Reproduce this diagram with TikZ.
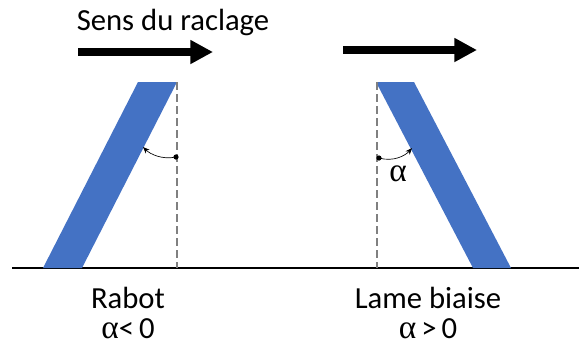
\documentclass[tikz,border=0pt]{standalone}
\usepackage{fontspec}
\setmainfont{Carlito}
\newfontfamily\grk{Liberation Serif}
\usetikzlibrary{arrows.meta}
\definecolor{blade}{HTML}{4472C4}
\definecolor{dashgray}{HTML}{808080}
\newcommand{\alf}{{\grk\fontsize{25}{25}\selectfont α}}
\begin{document}
\begin{tikzpicture}[x=0.75pt,y=-0.75pt,
  bladestyle/.style={fill=blade,draw=none},
  refline/.style={draw=dashgray,dash pattern=on 6pt off 3pt,line width=1pt},
  bigarrow/.style={line width=6pt,-{Triangle[length=17pt,width=17pt]}},
  anglearrow/.style={line width=0.5pt,-{Stealth[length=5pt,width=4pt]}},
  lbl/.style={font=\fontsize{23}{22}\selectfont,inner sep=0pt,align=center}]
\useasboundingbox (0,0) rectangle (579,344);
% ground
\coordinate (g1) at (12,268);
\coordinate (g2) at (579,268);
\draw[line width=1.5pt] (g1) -- (g2);
% blades
\path[bladestyle] (138,82) -- (177,82) -- (82,268) -- (43,268) -- cycle;
\path[bladestyle] (376,82) -- (414,82) -- (511,268) -- (473,268) -- cycle;
% dashed references
\coordinate (l1) at (177,82); \coordinate (l2) at (177,268);
\coordinate (r1) at (377,82); \coordinate (r2) at (377,268);
\draw[refline] (l1) -- (l2);
\draw[refline] (r1) -- (r2);
% big arrows
\coordinate (a1) at (78,52); \coordinate (a2) at (213,52);
\coordinate (b1) at (343,50); \coordinate (b2) at (477,50);
\draw[bigarrow] (a1) -- (a2);
\draw[bigarrow] (b1) -- (b2);
% angle markers
\coordinate (ld) at (176,157); \coordinate (lt) at (143,147);
\coordinate (rd) at (379,158); \coordinate (rt) at (412,148);
\fill (ld) circle (2.6);
\fill (rd) circle (2.6);
\draw[anglearrow] (ld) .. controls (162,160) and (150,154) .. (lt);
\draw[anglearrow] (rd) .. controls (393,162) and (405,156) .. (rt);
% texts
\node[lbl] (title) at (173,22) {Sens du raclage};
\node[lbl] (alpha) at (398,174) {\alf};
\node[lbl] (rabot) at (128,313) {Rabot\\\alf<\,0};
\node[lbl] (lame) at (428,313) {Lame biaise\\\alf\,>\,0};
\end{tikzpicture}
\end{document}
